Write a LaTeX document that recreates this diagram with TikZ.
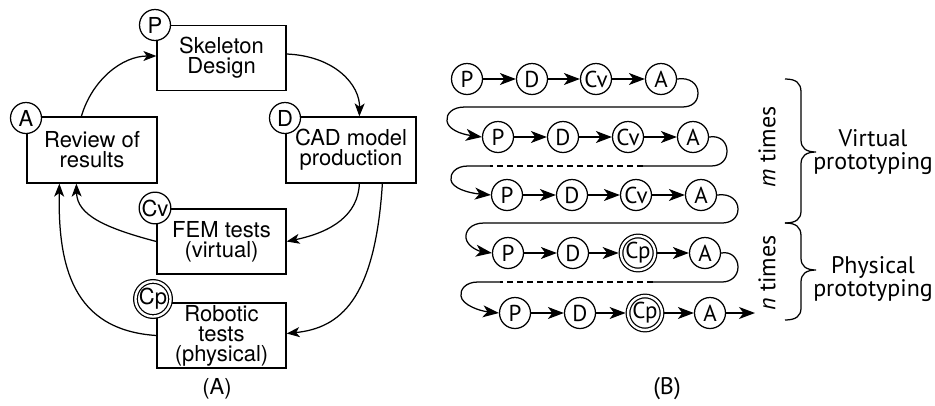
\documentclass[tikz,border=0pt]{standalone}
\usepackage{fontspec}
\setmainfont{TeX Gyre Heros}
\newfontfamily\myr{PT Sans}
\usetikzlibrary{arrows.meta,calc}
\begin{document}
\begin{tikzpicture}[x=1pt,y=-1pt,line width=1.25pt,
  box/.style={draw,minimum width=129pt,minimum height=65pt,align=center,inner sep=0pt,
    font=\fontsize{22}{20}\selectfont},
  lcirc/.style={draw,circle,fill=white,minimum size=31pt,inner sep=0pt,font=\fontsize{22}{22}\selectfont},
  lcircd/.style={draw,circle,fill=white,minimum size=34pt,inner sep=0pt,double,double distance=2.4pt,outer sep=2.4pt,font=\fontsize{22}{22}\selectfont},
  rc/.style={draw,circle,fill=white,minimum size=31pt,inner sep=0pt,font=\myr\fontsize{23}{23}\selectfont},
  rcd/.style={draw,circle,fill=white,minimum size=34pt,inner sep=0pt,double,double distance=2.4pt,outer sep=2.4pt,font=\myr\fontsize{23}{23}\selectfont},
  la/.style={-{Stealth[length=13pt,width=10pt,inset=3.5pt]}},
  ra/.style={-{Stealth[length=16pt,width=12pt,inset=4.5pt]}},
  rtxt/.style={font=\myr\fontsize{24}{23}\selectfont,align=center}]
\useasboundingbox (0,0) rectangle (935,405);
% ---------- (A) ----------
\node[box] (skel) at (221.5,58) {Skeleton\\Design};
\node[box,minimum width=130pt,minimum height=66pt] (rev) at (92,150) {Review of\\results};
\node[box,minimum width=130pt,minimum height=66pt] (cad) at (351,150) {CAD model\\production};
\node[box] (fem) at (221.5,241.5) {FEM tests\\(virtual)};
\node[box] (rob) at (221.5,335.5) {Robotic\\tests\\(physical)};
\node[lcirc] (cP) at (155,25) {P};
\node[lcirc] (cA) at (26,118) {A};
\node[lcirc] (cD) at (285,118) {D};
\node[lcirc] (cCv) at (155,208) {Cv};
\node[lcircd] (cCp) at (153,299) {Cp};
\node (labA) at (217,389) {\fontsize{22}{22}\selectfont(A)};
\draw[la] ($(rev.north west)+(55,0)$) .. controls (92,80) and (122,56) .. ($(skel.west)+(0,-2)$);
\draw[la] ($(skel.east)+(0,-4)$) .. controls (335,56) and (360,85) .. ($(cad.north west)+(74,0)$);
\draw[la] ($(cad.south west)+(74,0)$) .. controls (358,215) and (332,232) .. (fem.east);
\draw[la] ($(cad.south west)+(97,0)$) .. controls (375,300) and (340,328) .. ($(rob.east)+(0,-2)$);
\draw[la] (fem.west) .. controls (105,228) and (77,215) .. ($(rev.south west)+(50,0)$);
\draw[la] (rob.west) .. controls (72,330) and (58,265) .. ($(rev.south west)+(33,0)$);
% ---------- (B) ----------
\node[rc] (p1) at (467,79) {P};
\node[rc] (d1) at (532,79) {D};
\node[rc] (c1) at (596,79) {Cv};
\node[rc] (a1) at (661,79) {A};
\node[rc] (p2) at (498,137) {P};
\node[rc] (d2) at (563,137) {D};
\node[rc] (c2) at (628,137) {Cv};
\node[rc] (a2) at (693,137) {A};
\node[rc] (p3) at (507,195) {P};
\node[rc] (d3) at (572,195) {D};
\node[rc] (c3) at (636,195) {Cv};
\node[rc] (a3) at (701,195) {A};
\node[rc] (p4) at (508,253) {P};
\node[rc] (d4) at (573,253) {D};
\node[rcd] (c4) at (638,253) {Cp};
\node[rc] (a4) at (705,253) {A};
\node[rc] (p5) at (515,313) {P};
\node[rc] (d5) at (580,313) {D};
\node[rcd] (c5) at (645,313) {Cp};
\node[rc] (a5) at (710,313) {A};
\coordinate (fin) at (755,313);
\foreach \i in {1,...,5}{
  \draw[ra] (p\i) -- (d\i);
  \draw[ra] (d\i) -- (c\i);
  \draw[ra] (c\i) -- (a\i);
}
\draw[ra] (a5) -- (fin);
% turns
\draw[ra] (a1.east) .. controls (690,77) and (698,84) .. (698,93) .. controls (698,102) and (692,107) .. (682,107)
  -- (465,107) .. controls (452,107) and (446,114) .. (447,121) .. controls (448,129) and (460,134) .. (p2.west);
\coordinate (d2a) at (643,166);
\coordinate (d2b) at (490,166);
\draw (a2.east) .. controls (721,135) and (727,143) .. (727,151) .. controls (727,160) and (721,166) .. (711,166) -- (d2a);
\draw[dashed,dash pattern=on 6pt off 4pt] (d2a) -- (d2b);
\draw[ra] (d2b) -- (468,166) .. controls (455,166) and (450,174) .. (451,180) .. controls (452,188) and (468,193) .. (p3.west);
\draw[ra] (a3.east) .. controls (731,193) and (738,201) .. (738,209) .. controls (738,218) and (731,223) .. (722,223)
  -- (484,223) .. controls (470,223) and (465,232) .. (466,238) .. controls (467,246) and (478,251) .. (p4.west);
\coordinate (d4a) at (653,282);
\coordinate (d4b) at (500,282);
\draw (a4.east) .. controls (732,251) and (738,259) .. (738,267) .. controls (738,276) and (731,282) .. (722,282) -- (d4a);
\draw[dashed,dash pattern=on 6pt off 4pt] (d4a) -- (d4b);
\draw[ra] (d4b) -- (478,282) .. controls (465,282) and (460,290) .. (461,296) .. controls (462,305) and (480,311) .. (p5.west);
% braces
\draw (785,79) .. controls (796,79) and (801,83) .. (801,92) -- (801,140) .. controls (801,148) and (806,152) .. (816,152)
  .. controls (806,152) and (801,156) .. (801,164) -- (801,211) .. controls (801,219) and (796,223) .. (785,223);
\draw (785,223) .. controls (796,223) and (801,227) .. (801,236) -- (801,258) .. controls (801,266) and (806,270) .. (816,270)
  .. controls (806,270) and (801,274) .. (801,282) -- (801,308) .. controls (801,316) and (796,320) .. (785,320);
\node[rtxt,rotate=90] (mt) at (767,147) {\textit{m} times};
\node[rtxt,rotate=90] (nt) at (767,273) {\textit{n} times};
\node[rtxt] (vp) at (873,152) {Virtual\\prototyping};
\node[rtxt] (pp) at (873,279) {Physical\\prototyping};
\node[rtxt] (labB) at (667,389) {(B)};
\end{tikzpicture}
\end{document}
